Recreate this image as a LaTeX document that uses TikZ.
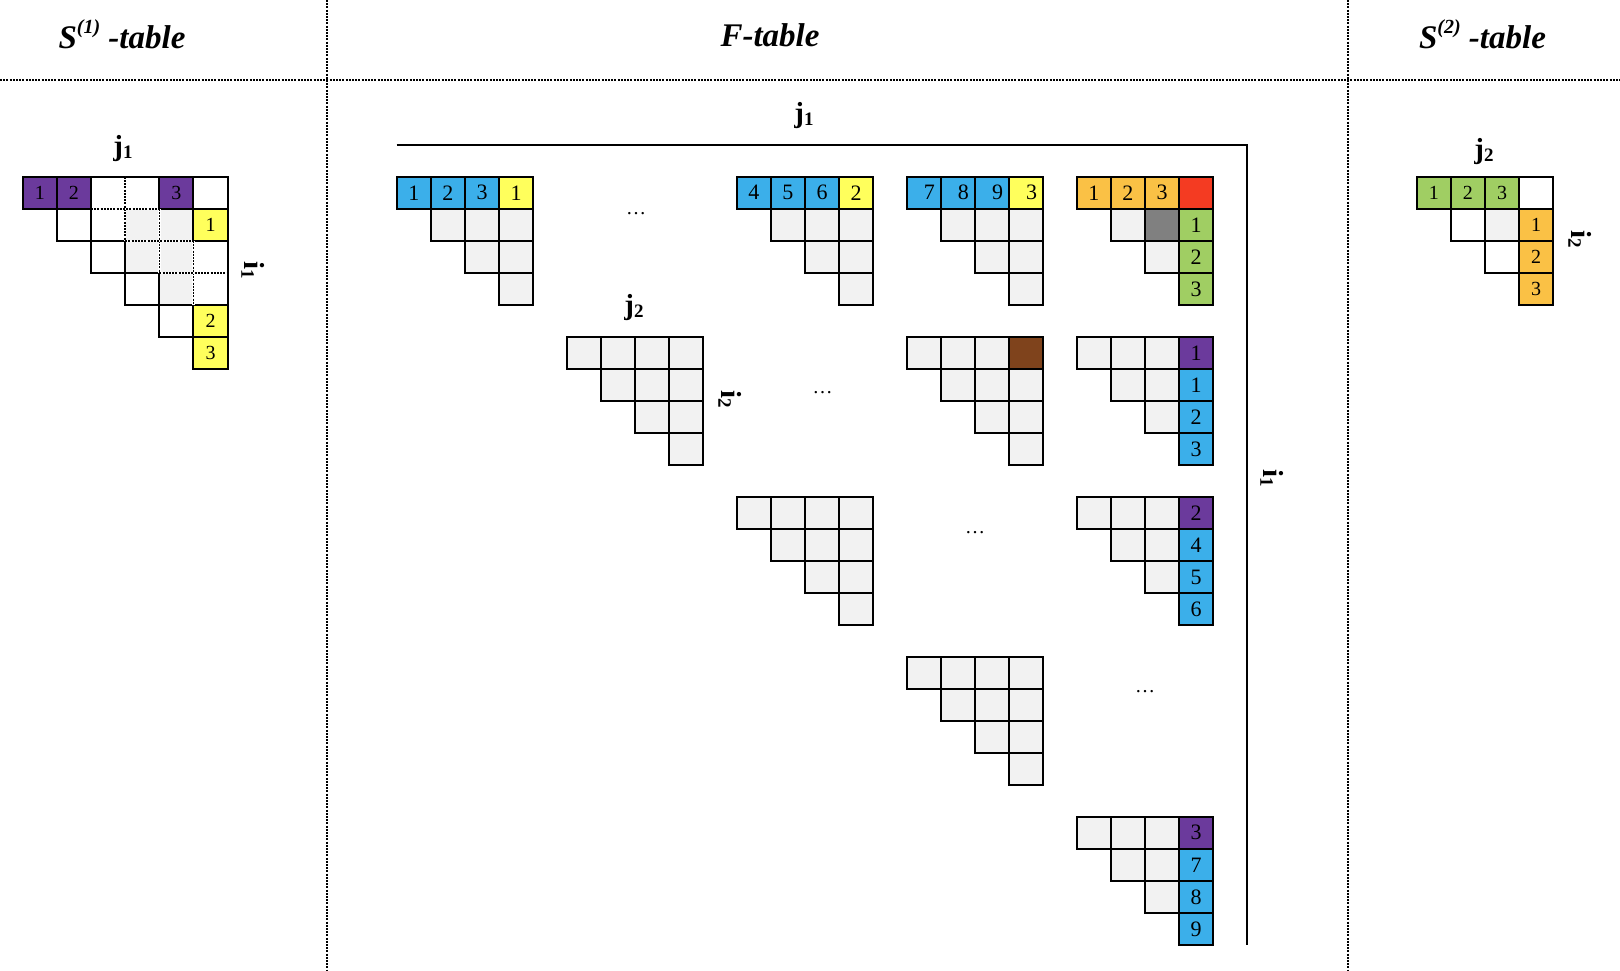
\documentclass[tikz,border=0pt]{standalone}
\usepackage{fontspec}
\setmainfont{Liberation Serif}
\definecolor{cpurple}{HTML}{6B3A9C}
\definecolor{cblue}{HTML}{3BAFEA}
\definecolor{cyellow}{HTML}{FFFF5C}
\definecolor{corange}{HTML}{FAC145}
\definecolor{cred}{HTML}{F43B22}
\definecolor{cgreen}{HTML}{A0CE63}
\definecolor{cbrown}{HTML}{7F431C}
\definecolor{cdgray}{HTML}{808080}
\definecolor{clgray}{HTML}{F2F2F2}
\tikzset{
  cell/.style={draw=black, line width=2pt, minimum width=34.15pt, minimum height=32.1pt,
    inner sep=0pt, outer sep=0pt, font=\fontsize{22}{22}\selectfont},
  scell/.style={cell, font=\fontsize{20}{20}\selectfont},
  sepline/.style={line width=1.5pt, dash pattern=on 2pt off 1.2pt},
  innerdash/.style={line width=1.5pt, dash pattern=on 2pt off 1.2pt},
  whiteout/.style={white, line width=2.4pt},
  title/.style={font=\fontsize{33}{33}\selectfont\bfseries\itshape, anchor=base, inner sep=0pt},
  axlab/.style={font=\fontsize{29}{29}\selectfont\bfseries, inner sep=0pt},
  axisline/.style={line width=2pt},
  dotsl/.style={font=\fontsize{20}{20}\selectfont, inner sep=0pt},
}
% triangular grid: name, left, top, last index, fill, style
\newcommand\trigrid[6]{%
  \foreach \r in {0,...,#4}{%
    \foreach \c in {\r,...,#4}{%
      \node[#6,fill=#5] (#1-\r-\c) at ({#2+(\c+0.5)*34.15},{#3+(\r+0.5)*32.1}) {};
    }}}
% coloured cell over a grid cell: name, row, col, fill, text, style
\newcommand\putcell[6]{\node[#6,fill=#4] (#1-#2-#3f) at (#1-#2-#3) {#5};}
\newcommand\sublab[2]{#1{\fontsize{19}{19}\selectfont\raisebox{-3pt}{#2}}}
\newcommand\supx[1]{\raisebox{15pt}{\fontsize{20}{20}\selectfont(#1)}}
\newcommand\sx[1]{\hspace*{11pt}#1}
\begin{document}
\begin{tikzpicture}[x=1pt,y=-1pt]
\useasboundingbox (0,0) rectangle (1620,970);
\fill[white] (0,0) rectangle (1620,970);

% separators
\coordinate (hl) at (0,80); \coordinate (hr) at (1620,80);
\coordinate (v1t) at (327,0); \coordinate (v1b) at (327,970);
\coordinate (v2t) at (1348,0); \coordinate (v2b) at (1348,970);
\draw[sepline] (hl) -- (hr);
\draw[sepline] (v1t) -- (v1b);
\draw[sepline] (v2t) -- (v2b);

% titles
\node[title] (t1) at (122,48.3) {S\supx{1} -table};
\node[title] (t2) at (770,46.4) {F-table};
\node[title] (t3) at (1482.5,48.3) {S\supx{2} -table};

% ---------- S(1) table ----------
\trigrid{s1}{22.7}{176.7}{5}{white}{scell}
\putcell{s1}{1}{3}{clgray}{}{scell}
\putcell{s1}{1}{4}{clgray}{}{scell}
\putcell{s1}{2}{3}{clgray}{}{scell}
\putcell{s1}{2}{4}{clgray}{}{scell}
\putcell{s1}{3}{4}{clgray}{}{scell}
\putcell{s1}{0}{0}{cpurple}{1}{scell}
\putcell{s1}{0}{1}{cpurple}{2}{scell}
\putcell{s1}{0}{4}{cpurple}{3}{scell}
\putcell{s1}{1}{5}{cyellow}{1}{scell}
\putcell{s1}{4}{5}{cyellow}{2}{scell}
\putcell{s1}{5}{5}{cyellow}{3}{scell}
% dashed inner lines
\foreach \ax/\ay/\bx/\by in {3/0/3/2, 4/1/4/3, 5/2/5/4, 2/1/4/1, 3/2/5/2, 4/3/6/3}{%
  \draw[whiteout] ({22.7+\ax*34.15},{176.7+\ay*32.1}) -- ({22.7+\bx*34.15},{176.7+\by*32.1});
  \draw[innerdash] ({22.7+\ax*34.15},{176.7+\ay*32.1}) -- ({22.7+\bx*34.15},{176.7+\by*32.1});
}
\node[axlab] (s1j) at (123,149) {\sublab{j}{1}};
\node[axlab, rotate=-90] (s1i) at (253,270) {\sublab{i}{1}};

% ---------- F table ----------
\coordinate (axs) at (396.7,145);
\coordinate (axc) at (1246.7,145);
\coordinate (axe) at (1246.7,945);
\draw[axisline] (axs) -- (axc) -- (axe);
\node[axlab] (fj1) at (804,116) {\sublab{j}{1}};
\node[axlab, rotate=-90] (fi1) at (1272,478) {\sublab{i}{1}};
\node[axlab] (fj2) at (634,308) {\sublab{j}{2}};
\node[axlab, rotate=-90] (fi2) at (730,399) {\sublab{i}{2}};

\trigrid{f00}{396.7}{176.7}{3}{clgray}{cell}
\trigrid{f02}{736.7}{176.7}{3}{clgray}{cell}
\trigrid{f03}{906.7}{176.7}{3}{clgray}{cell}
\trigrid{f04}{1076.7}{176.7}{3}{clgray}{cell}
\trigrid{f11}{566.7}{336.7}{3}{clgray}{cell}
\trigrid{f13}{906.7}{336.7}{3}{clgray}{cell}
\trigrid{f14}{1076.7}{336.7}{3}{clgray}{cell}
\trigrid{f22}{736.7}{496.7}{3}{clgray}{cell}
\trigrid{f24}{1076.7}{496.7}{3}{clgray}{cell}
\trigrid{f33}{906.7}{656.7}{3}{clgray}{cell}
\trigrid{f44}{1076.7}{816.7}{3}{clgray}{cell}

\putcell{f00}{0}{0}{cblue}{1}{cell}
\putcell{f00}{0}{1}{cblue}{2}{cell}
\putcell{f00}{0}{2}{cblue}{3}{cell}
\putcell{f00}{0}{3}{cyellow}{1}{cell}

\putcell{f02}{0}{0}{cblue}{4}{cell}
\putcell{f02}{0}{1}{cblue}{5}{cell}
\putcell{f02}{0}{2}{cblue}{6}{cell}
\putcell{f02}{0}{3}{cyellow}{2}{cell}

\putcell{f03}{0}{0}{cblue}{\sx{7}}{cell}
\putcell{f03}{0}{1}{cblue}{\sx{8}}{cell}
\putcell{f03}{0}{2}{cblue}{\sx{9}}{cell}
\putcell{f03}{0}{3}{cyellow}{\sx{3}}{cell}

\putcell{f04}{0}{0}{corange}{1}{cell}
\putcell{f04}{0}{1}{corange}{2}{cell}
\putcell{f04}{0}{2}{corange}{3}{cell}
\putcell{f04}{0}{3}{cred}{}{cell}
\putcell{f04}{1}{2}{cdgray}{}{cell}
\putcell{f04}{1}{3}{cgreen}{1}{cell}
\putcell{f04}{2}{3}{cgreen}{2}{cell}
\putcell{f04}{3}{3}{cgreen}{3}{cell}

\putcell{f13}{0}{3}{cbrown}{}{cell}

\putcell{f14}{0}{3}{cpurple}{1}{cell}
\putcell{f14}{1}{3}{cblue}{1}{cell}
\putcell{f14}{2}{3}{cblue}{2}{cell}
\putcell{f14}{3}{3}{cblue}{3}{cell}

\putcell{f24}{0}{3}{cpurple}{2}{cell}
\putcell{f24}{1}{3}{cblue}{4}{cell}
\putcell{f24}{2}{3}{cblue}{5}{cell}
\putcell{f24}{3}{3}{cblue}{6}{cell}

\putcell{f44}{0}{3}{cpurple}{3}{cell}
\putcell{f44}{1}{3}{cblue}{7}{cell}
\putcell{f44}{2}{3}{cblue}{8}{cell}
\putcell{f44}{3}{3}{cblue}{9}{cell}

\node[dotsl] (d1) at (636,214) {\ldots};
\node[dotsl] (d2) at (822.5,393) {\ldots};
\node[dotsl] (d3) at (975,533) {\ldots};
\node[dotsl] (d4) at (1145,692) {\ldots};

% ---------- S(2) table ----------
\trigrid{s2}{1416.7}{176.7}{3}{white}{scell}
\putcell{s2}{0}{0}{cgreen}{1}{scell}
\putcell{s2}{0}{1}{cgreen}{2}{scell}
\putcell{s2}{0}{2}{cgreen}{3}{scell}
\putcell{s2}{1}{2}{clgray}{}{scell}
\putcell{s2}{1}{3}{corange}{1}{scell}
\putcell{s2}{2}{3}{corange}{2}{scell}
\putcell{s2}{3}{3}{corange}{3}{scell}
\node[axlab] (s2j) at (1484,152) {\sublab{j}{2}};
\node[axlab, rotate=-90] (s2i) at (1580,239) {\sublab{i}{2}};
\end{tikzpicture}
\end{document}
